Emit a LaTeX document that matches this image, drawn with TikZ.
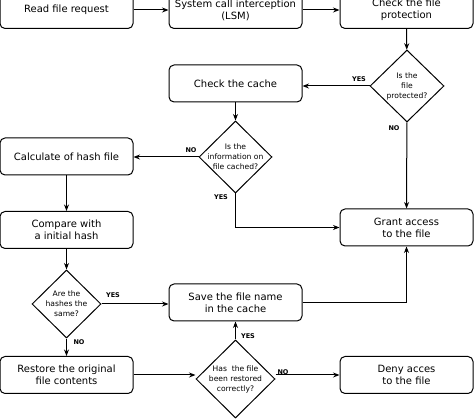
\documentclass[tikz,border=0pt]{standalone}
\usepackage{fontspec}
\setmainfont{DejaVu Sans}
\usetikzlibrary{shapes.geometric,arrows.meta}
\begin{document}
\begin{tikzpicture}[x=1pt,y=-1pt,
  box/.style={draw,line width=1pt,rounded corners=5pt,minimum width=133pt,minimum height=37pt,inner sep=0pt,align=center,font=\fontsize{10}{12}\selectfont},
  dia/.style={draw,line width=1pt,diamond,inner sep=0pt,aspect=1},
  dtext/.style={align=center,inner sep=0pt,font=\fontsize{7.6}{10}\selectfont},
  lbl/.style={inner sep=0pt,font=\fontsize{6.5}{7}\selectfont\bfseries},
  arr/.style={line width=1pt,-{Stealth[length=6.5pt,width=5pt]}}]
\useasboundingbox (0,0) rectangle (474,419);
% boxes
\node[box] (read) at (66.5,10) {Read file request};
\node[box] (sys) at (235.5,10) {System call interception\\(LSM)};
\node[box] (chk) at (406.5,10) {Check the file\\protection};
\node[box] (cache) at (235.5,83.5) {Check the cache};
\node[box] (calc) at (66.5,156.5) {Calculate of hash file};
\node[box] (comp) at (66.5,230) {Compare with\\a initial hash};
\node[box] (grant) at (406.5,227.5) {Grant access\\to the file};
\node[box] (save) at (235.5,302.5) {Save the file name\\in the cache};
\node[box] (rest) at (66.5,375) {Restore the original\\file contents};
\node[box] (deny) at (406.5,375) {Deny acces\\to the file};
% diamonds
\node[dia,minimum width=74pt,minimum height=72pt] (d1) at (407,86) {};
\node[dtext] (t1) at (d1) {Is the\\file\\protected?};
\node[dia,minimum width=73pt,minimum height=72pt] (d2) at (235.5,157) {};
\node[dtext] (t2) at (d2) {Is the\\information on\\file cached?};
\node[dia,minimum width=69pt,minimum height=68pt] (d3) at (66.5,304) {};
\node[dtext] (t3) at (d3) {Are the\\hashes the\\same?};
\node[dia,minimum width=79pt,minimum height=78pt] (d4) at (235.5,379) {};
\node[dtext] (t4) at (d4) {Has\ \ the file\\been restored\\correctly?};
% connectors
\draw[arr] (read) -- (sys);
\draw[arr] (sys) -- (chk);
\draw[arr] (chk) -- (d1);
\draw[arr] (d1.west) -- (cache.east |- d1.west);
\draw[arr] (d1) -- (grant);
\draw[arr] (cache) -- (d2);
\draw[arr] (d2.west) -- (calc.east |- d2.west);
\draw[arr] (d2.south) |- (grant.west);
\draw[arr] (calc) -- (comp);
\draw[arr] (comp) -- (d3);
\draw[arr] (d3.east) -- (save.west |- d3.east);
\draw[arr] (d3) -- (rest);
\draw[arr] (rest.east) -- (d4.west |- rest.east);
\draw[arr] (d4) -- (save);
\draw[arr] (d4.east |- rest.east) -- (deny.west);
\draw[arr] (save.east) -| (grant.south);
% labels
\node[lbl] (l1) at (359,79) {YES};
\node[lbl] (l2) at (394,128) {NO};
\node[lbl] (l3) at (191,150) {NO};
\node[lbl] (l4) at (221,197) {YES};
\node[lbl] (l5) at (113,295) {YES};
\node[lbl] (l6) at (79,342) {NO};
\node[lbl] (l7) at (248,336) {YES};
\node[lbl] (l8) at (283,372) {NO};
\end{tikzpicture}
\end{document}
